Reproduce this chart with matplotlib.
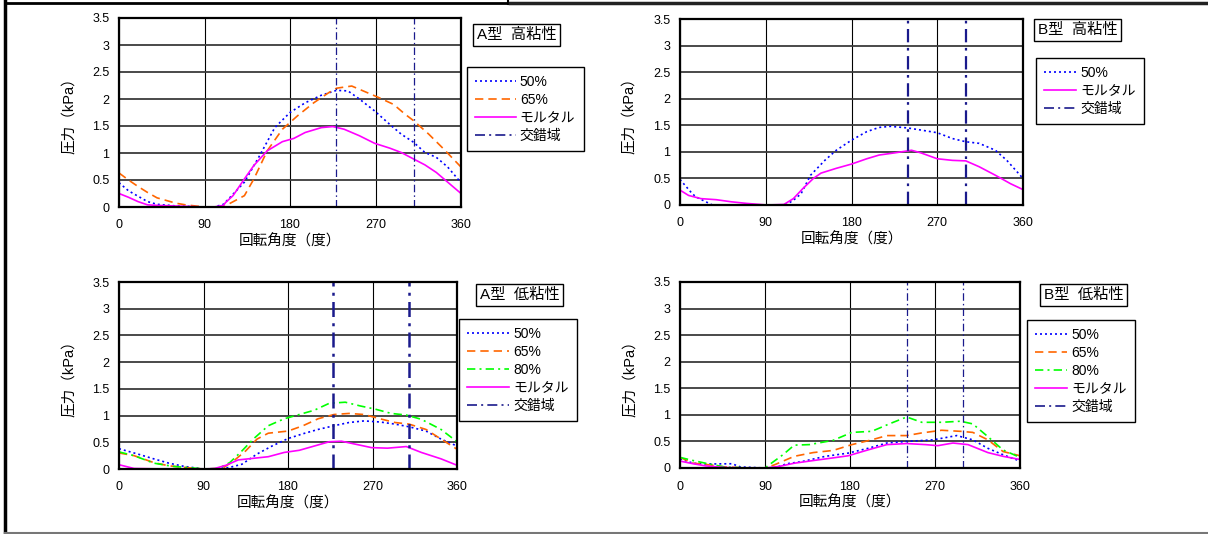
import matplotlib
matplotlib.use("Agg")
import matplotlib.pyplot as plt
from matplotlib.lines import Line2D

plt.rcParams['font.family'] = ['Liberation Sans', 'Noto Sans CJK JP', 'DejaVu Sans']

# ---- data (angle in degrees, pressure in kPa) ----
# A型 高粘性
a_hi_50_x = [0, 10, 20, 30, 40, 60, 90, 100, 110, 132, 148, 164, 180, 196, 213, 229, 241, 253, 269, 285, 297, 310, 322, 334, 346, 360]
a_hi_50_y = [0.45, 0.3, 0.2, 0.1, 0.05, 0.02, 0.0, 0.0, 0.05, 0.46, 0.95, 1.47, 1.75, 1.93, 2.07, 2.16, 2.15, 2.0, 1.78, 1.53, 1.35, 1.2, 1.01, 0.92, 0.74, 0.45]
a_hi_65_x = [0, 10, 20, 30, 40, 50, 60, 70, 80, 90, 110, 115, 132, 142, 156, 172, 188, 205, 221, 229, 245, 257, 273, 289, 301, 310, 326, 342, 360]
a_hi_65_y = [0.63, 0.5, 0.38, 0.27, 0.17, 0.12, 0.07, 0.04, 0.02, 0.0, 0.0, 0.05, 0.21, 0.52, 1.04, 1.44, 1.69, 1.93, 2.12, 2.2, 2.24, 2.15, 2.03, 1.9, 1.72, 1.6, 1.35, 1.07, 0.74]
a_hi_mo_x = [0, 10, 20, 30, 40, 90, 100, 110, 112, 120, 132, 142, 156, 172, 184, 196, 213, 225, 237, 253, 269, 285, 297, 310, 322, 334, 346, 360]
a_hi_mo_y = [0.25, 0.18, 0.1, 0.04, 0.03, 0.0, 0.0, 0.03, 0.08, 0.21, 0.52, 0.77, 1.04, 1.21, 1.27, 1.38, 1.47, 1.49, 1.44, 1.32, 1.18, 1.09, 1.01, 0.89, 0.78, 0.64, 0.46, 0.25]
a_hi_zone = [228, 310]

# B型 高粘性
b_hi_50_x = [0, 13, 17, 34, 60, 90, 111, 119, 127, 137, 152, 164, 180, 196, 209, 221, 239, 253, 270, 286, 300, 314, 331, 343, 360]
b_hi_50_y = [0.48, 0.21, 0.15, 0.0, 0.0, 0.0, 0.0, 0.09, 0.21, 0.56, 0.84, 1.03, 1.22, 1.38, 1.46, 1.48, 1.45, 1.41, 1.36, 1.25, 1.19, 1.16, 1.03, 0.84, 0.5]
b_hi_mo_x = [0, 9, 22, 38, 54, 70, 91, 109, 119, 129, 140, 148, 164, 180, 196, 209, 225, 243, 253, 270, 286, 300, 314, 331, 347, 360]
b_hi_mo_y = [0.28, 0.18, 0.12, 0.1, 0.06, 0.03, 0.0, 0.01, 0.12, 0.31, 0.5, 0.6, 0.69, 0.77, 0.87, 0.94, 0.98, 1.03, 0.98, 0.87, 0.84, 0.83, 0.72, 0.56, 0.4, 0.29]
b_hi_zone = [239, 300]

# A型 低粘性
a_lo_50_x = [0, 20, 37, 53, 69, 90, 102, 118, 131, 147, 163, 180, 196, 212, 229, 245, 261, 278, 294, 309, 327, 343, 360]
a_lo_50_y = [0.38, 0.28, 0.19, 0.11, 0.05, 0.0, 0.0, 0.03, 0.09, 0.28, 0.43, 0.57, 0.66, 0.74, 0.81, 0.87, 0.9, 0.88, 0.84, 0.79, 0.71, 0.56, 0.43]
a_lo_65_x = [0, 16, 37, 53, 69, 90, 110, 122, 135, 147, 159, 180, 196, 212, 229, 245, 261, 278, 294, 309, 327, 343, 360]
a_lo_65_y = [0.3, 0.25, 0.12, 0.06, 0.03, 0.0, 0.01, 0.15, 0.34, 0.56, 0.67, 0.71, 0.81, 0.94, 1.02, 1.04, 1.02, 0.94, 0.87, 0.84, 0.74, 0.56, 0.37]
a_lo_80_x = [0, 16, 37, 57, 78, 90, 106, 118, 131, 143, 159, 176, 192, 208, 224, 241, 257, 273, 290, 306, 322, 343, 360]
a_lo_80_y = [0.32, 0.25, 0.11, 0.05, 0.02, 0.0, 0.01, 0.12, 0.34, 0.56, 0.81, 0.94, 1.02, 1.1, 1.23, 1.25, 1.18, 1.12, 1.04, 1.01, 0.93, 0.74, 0.51]
a_lo_mo_x = [0, 16, 50, 90, 102, 114, 127, 143, 159, 176, 192, 208, 224, 237, 253, 269, 286, 306, 322, 343, 360]
a_lo_mo_y = [0.08, 0.01, 0.0, 0.0, 0.01, 0.07, 0.17, 0.2, 0.23, 0.31, 0.35, 0.43, 0.51, 0.52, 0.46, 0.4, 0.39, 0.42, 0.31, 0.19, 0.07]
a_lo_zone = [228, 309]

# B型 低粘性
b_lo_50_x = [0, 14, 27, 55, 64, 90, 100, 113, 129, 154, 178, 199, 219, 240, 268, 293, 310, 326, 342, 360]
b_lo_50_y = [0.17, 0.09, 0.075, 0.08, 0.02, 0.0, 0.0, 0.08, 0.12, 0.22, 0.28, 0.37, 0.47, 0.5, 0.53, 0.61, 0.53, 0.37, 0.25, 0.13]
b_lo_65_x = [0, 14, 31, 47, 70, 90, 100, 121, 141, 162, 182, 203, 219, 240, 256, 277, 297, 310, 326, 342, 360]
b_lo_65_y = [0.2, 0.09, 0.06, 0.02, 0.0, 0.0, 0.06, 0.22, 0.29, 0.33, 0.44, 0.53, 0.61, 0.61, 0.66, 0.71, 0.69, 0.67, 0.53, 0.31, 0.23]
b_lo_80_x = [0, 14, 31, 47, 70, 90, 96, 109, 121, 137, 162, 182, 203, 223, 240, 256, 277, 297, 310, 326, 342, 360]
b_lo_80_y = [0.2, 0.14, 0.075, 0.02, 0.0, 0.0, 0.08, 0.25, 0.43, 0.44, 0.52, 0.67, 0.69, 0.84, 0.96, 0.86, 0.86, 0.88, 0.83, 0.59, 0.34, 0.2]
b_lo_mo_x = [0, 14, 27, 47, 70, 90, 105, 121, 141, 162, 178, 199, 219, 240, 260, 273, 289, 305, 326, 342, 360]
b_lo_mo_y = [0.13, 0.08, 0.04, 0.01, 0.0, 0.0, 0.03, 0.09, 0.14, 0.19, 0.23, 0.34, 0.44, 0.46, 0.44, 0.42, 0.47, 0.44, 0.29, 0.22, 0.16]
b_lo_zone = [240, 300]

titles = ['A型  高粘性', 'B型  高粘性', 'A型  低粘性', 'B型  低粘性']
xticks = [0, 90, 180, 270, 360]
yticks = [0, 0.5, 1, 1.5, 2, 2.5, 3, 3.5]
ytick_labels = ['0', '0.5', '1', '1.5', '2', '2.5', '3', '3.5']

# ---- styles ----
STY = {
    '50%': dict(color='#0000FF', ls=(0, (1.2, 1.8)), lw=1.2),
    '65%': dict(color='#FF6600', ls=(0, (5, 3)), lw=1.2),
    '80%': dict(color='#00FF00', ls=(0, (5, 2.5, 1.2, 2.5)), lw=1.2),
    'モルタル': dict(color='#FF00FF', ls='-', lw=1.2),
}
ZONE = dict(color='#1a1a8c', ls=(0, (6, 2.5, 1.2, 2.5)))

W, H = 1208, 534
fig = plt.figure(figsize=(W / 100, H / 100), dpi=100)


def px_axes(l, r, t, b):
    return fig.add_axes([l / W, 1 - b / H, (r - l) / W, (b - t) / H])


def panel(rect, series, zone, zone_lw, title, tbox, lbox, ylab_x, hlen):
    ax = px_axes(*rect)
    for lab, x, y in series:
        ax.plot(x, y, label=lab, **STY[lab])
    for z in zone:
        ax.axvline(z, lw=zone_lw, **ZONE)
    ax.set_xlim(0, 360)
    ax.set_ylim(0, 3.5)
    ax.set_xticks(xticks)
    ax.set_yticks(yticks)
    ax.set_yticklabels(ytick_labels)
    ax.tick_params(length=0, labelsize=9, pad=7)
    ax.tick_params(axis='x', pad=9)
    ax.yaxis.grid(True, color='#3a3a3a', lw=1.3)
    ax.xaxis.grid(True, color='black', lw=0.8)
    ax.set_axisbelow(True)
    for s in ax.spines.values():
        s.set_linewidth(1.6)
        s.set_color('black')
    ax.set_xlabel('回転角度（度）', fontsize=10.5, labelpad=2)
    ax.set_ylabel('圧力（kPa）', fontsize=10.5)
    ax.yaxis.set_label_coords((ylab_x - rect[0]) / (rect[1] - rect[0]), 0.5)
    handles, labels = ax.get_legend_handles_labels()
    handles.append(Line2D([], [], lw=1.2, **ZONE))
    labels.append('交錯域')
    leg = ax.legend(handles, labels, loc='upper left',
                    bbox_to_anchor=(lbox[0] / W, 1 - lbox[1] / H),
                    bbox_transform=fig.transFigure, borderaxespad=0,
                    fontsize=10, handlelength=hlen, labelspacing=0.28,
                    handletextpad=0.3, borderpad=0.6, fancybox=False,
                    edgecolor='black', framealpha=1)
    leg.get_frame().set_linewidth(1.0)
    fig.text(tbox[0] / W, 1 - tbox[1] / H, title, fontsize=11, ha='left', va='top',
             bbox=dict(boxstyle='square,pad=0.25', fc='white', ec='black', lw=1.0))
    return ax


panel((119, 461, 18, 207),
      [('50%', a_hi_50_x, a_hi_50_y), ('65%', a_hi_65_x, a_hi_65_y), ('モルタル', a_hi_mo_x, a_hi_mo_y)],
      a_hi_zone, 0.9, titles[0], (477, 28), (467, 67), 76, 2.9)
panel((680, 1023, 19, 205),
      [('50%', b_hi_50_x, b_hi_50_y), ('モルタル', b_hi_mo_x, b_hi_mo_y)],
      b_hi_zone, 1.6, titles[1], (1038, 23), (1036, 58), 636, 2.3)
panel((119, 457, 282, 469),
      [('50%', a_lo_50_x, a_lo_50_y), ('65%', a_lo_65_x, a_lo_65_y), ('80%', a_lo_80_x, a_lo_80_y),
       ('モルタル', a_lo_mo_x, a_lo_mo_y)],
      a_lo_zone, 1.8, titles[2], (480, 288), (459, 319), 76, 3.0)
panel((680, 1020, 282, 468),
      [('50%', b_lo_50_x, b_lo_50_y), ('65%', b_lo_65_x, b_lo_65_y), ('80%', b_lo_80_x, b_lo_80_y),
       ('モルタル', b_lo_mo_x, b_lo_mo_y)],
      b_lo_zone, 0.9, titles[3], (1044, 288), (1027, 320), 637, 2.3)


# page frame lines
def fig_line(xs, ys, **kw):
    fig.add_artist(Line2D([x / W for x in xs], [1 - y / H for y in ys], transform=fig.transFigure, **kw))


fig_line([5, 5], [0, 534], color='black', lw=2.5)
fig_line([5, 508], [3, 3], color='black', lw=2.0)
fig_line([508, 508], [0, 4], color='black', lw=1.5)
fig_line([510, 1208], [2.5, 2.5], color='#222222', lw=2.5)
fig_line([5, 1208], [533, 533], color='#777777', lw=1.5)

fig.savefig('out.png', dpi=100)
